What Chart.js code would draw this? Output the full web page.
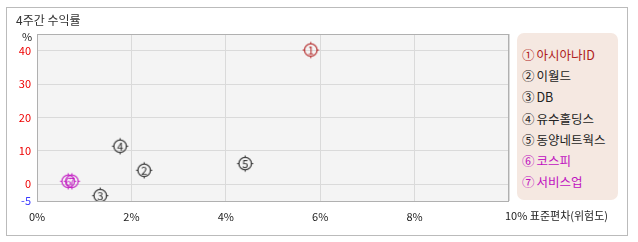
<!DOCTYPE html>
<html>
<head>
<meta charset="utf-8">
<script src="https://cdn.jsdelivr.net/npm/chart.js@4/dist/chart.umd.min.js"></script>
<style>
  body { margin: 0; background: #fff; }
  #wrap { position: relative; width: 638px; height: 242px; }
  #frame { position: absolute; left: 6px; top: 7px; width: 620px; height: 227px; border: 1px solid #bbb; }
  #lineChart { position: absolute; left: 0; top: 0; }
  #legend { position: absolute; left: 517px; top: 33px; width: 101px; height: 167px;
            background: #f5e8e1; border-radius: 7px; font: 12.5px "Noto Sans CJK KR", sans-serif; }
  #legend div { position: absolute; left: 5px; white-space: nowrap; line-height: 14px; }
  #legend span { margin-right: 2px; }
</style>
</head>
<body>
<div id="wrap">
  <div id="frame"></div>
  <canvas id="lineChart" width="638" height="242"></canvas>
  <div id="legend"></div>
</div>
<script>
const marks = ['①', '②', '③', '④', '⑤', '⑥', '⑦'];
const names = ['아시아나ID', '이월드', 'DB', '유수홀딩스', '동양네트웍스', '코스피', '서비스업'];
const riskValues = [5.8, 2.27, 1.34, 1.76, 4.41, 0.66, 0.74];
const returnValues = [40.2, 4.2, -3.4, 11.4, 6.2, 0.9, 0.9];
const colors = ['#b01c1c', '#222222', '#222222', '#222222', '#222222', '#c010c0', '#c010c0'];
const yTicks = [-5, 0, 10, 20, 30, 40];
const xTicks = [0, 2, 4, 6, 8, 10];

const font = '"Noto Sans CJK KR", sans-serif';

// circled marker with little crosshair ticks
function makeMarker(num, color) {
  const c = document.createElement('canvas');
  c.width = 19; c.height = 19;
  const g = c.getContext('2d');
  g.strokeStyle = color;
  g.lineWidth = 1.1;
  g.beginPath();
  g.arc(9.5, 9.5, 6.3, 0, Math.PI * 2);
  g.stroke();
  g.beginPath();
  g.moveTo(9.5, 1.5); g.lineTo(9.5, 3);
  g.moveTo(9.5, 16); g.lineTo(9.5, 17.5);
  g.moveTo(1.5, 9.5); g.lineTo(3, 9.5);
  g.moveTo(16, 9.5); g.lineTo(17.5, 9.5);
  g.stroke();
  g.fillStyle = color;
  g.font = '11px ' + font;
  g.textAlign = 'center';
  g.textBaseline = 'middle';
  g.fillText(String(num), 9.5, 10);
  return c;
}

const legendEl = document.getElementById('legend');
names.forEach((n, i) => {
  const d = document.createElement('div');
  d.style.top = (15 + i * 21.2) + 'px';
  d.style.color = colors[i];
  const m = document.createElement('span');
  m.textContent = marks[i];
  d.appendChild(m);
  d.appendChild(document.createTextNode(n));
  legendEl.appendChild(d);
});

const extras = {
  id: 'extras',
  beforeDraw(chart) {
    const { ctx, chartArea: a } = chart;
    ctx.save();
    ctx.fillStyle = '#f4f4f4';
    ctx.fillRect(a.left, a.top, a.right - a.left, a.bottom - a.top);
    ctx.restore();
  },
  afterDatasetsDraw(chart) {
    const { ctx, chartArea: a, scales } = chart;
    ctx.save();
    ctx.strokeStyle = '#b0b0b0';
    ctx.lineWidth = 1;
    ctx.strokeRect(a.left + 0.5, a.top + 0.5, a.right - a.left - 1, a.bottom - a.top);
    ctx.fillStyle = '#333';
    ctx.font = '12px ' + font;
    ctx.textBaseline = 'middle';
    ctx.fillText('4주간 수익률', 16, 20);
    ctx.font = '11px ' + font;
    ctx.fillStyle = '#222';
    ctx.fillText('%', 22, 37);
    ctx.fillText('10% 표준편차(위험도)', scales.x.getPixelForValue(10) - 4, 216);
    ctx.restore();
  }
};

const ctx = document.getElementById('lineChart').getContext('2d');
new Chart(ctx, {
  type: 'scatter',
  data: {
    datasets: names.map((n, i) => ({
      label: n,
      data: [{ x: riskValues[i], y: returnValues[i] }],
      pointStyle: makeMarker(i + 1, colors[i]),
      pointRadius: 9
    }))
  },
  options: {
    responsive: false,
    animation: false,
    layout: { padding: { left: 7, right: 129, top: 34, bottom: 0 } },
    plugins: { legend: { display: false }, tooltip: { enabled: false } },
    scales: {
      x: {
        type: 'linear',
        min: 0, max: 10,
        afterBuildTicks: s => { s.ticks = xTicks.map(v => ({ value: v })); },
        afterFit: s => { s.height = 41; },
        grid: { color: '#dadada', drawTicks: false },
        border: { display: false },
        ticks: {
          padding: 9,
          color: '#222',
          font: { family: font, size: 11 },
          callback: v => v === 10 ? '' : v + '%'
        }
      },
      y: {
        min: -5, max: 45,
        afterBuildTicks: s => { s.ticks = yTicks.map(v => ({ value: v })); },
        afterFit: s => { s.width = 30; },
        grid: { color: c => c.tick && c.tick.value === -5 ? 'rgba(0,0,0,0)' : '#dadada', drawTicks: false },
        border: { display: false },
        ticks: {
          padding: 6,
          color: c => c.tick.value < 0 ? '#3a3aff' : '#ee0000',
          font: { family: font, size: 11 }
        }
      }
    }
  },
  plugins: [extras]
});
</script>
</body>
</html>
